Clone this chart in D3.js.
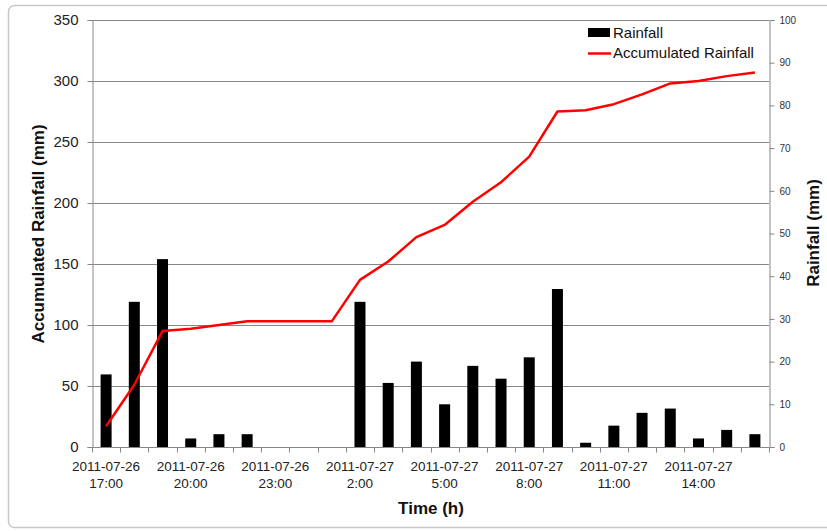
<!DOCTYPE html>
<html>
<head>
<meta charset="utf-8">
<script src="https://cdn.jsdelivr.net/npm/d3@7"></script>
<style>
  html, body { margin: 0; padding: 0; background: #fff; }
  svg { display: block; font-family: "Liberation Sans", Arial, sans-serif; }
</style>
</head>
<body>
<svg id="chart" width="827" height="531"></svg>
<script>
// Hourly observations, 2011-07-26 17:00 to 2011-07-27 16:00
const hours = ["17:00","18:00","19:00","20:00","21:00","22:00","23:00","0:00","1:00",
  "2:00","3:00","4:00","5:00","6:00","7:00","8:00","9:00","10:00","11:00","12:00",
  "13:00","14:00","15:00","16:00"];
const dates = ["2011-07-26","2011-07-26","2011-07-26","2011-07-26","2011-07-26","2011-07-26",
  "2011-07-26","2011-07-27","2011-07-27","2011-07-27","2011-07-27","2011-07-27","2011-07-27",
  "2011-07-27","2011-07-27","2011-07-27","2011-07-27","2011-07-27","2011-07-27","2011-07-27",
  "2011-07-27","2011-07-27","2011-07-27","2011-07-27"];
// Hourly rainfall (mm), right axis
const rainfall = [17, 34, 44, 2, 3, 3, 0, 0, 0, 34, 15, 20, 10, 19, 16, 21, 37, 1, 5, 8, 9, 2, 4, 3];
// Accumulated rainfall (mm), left axis
const accumulated = [17, 51, 95, 97, 100, 103, 103, 103, 103, 137, 152, 172, 182, 201, 217, 238,
  275, 276, 281, 289, 298, 300, 304, 307];
const leftTicks = [0, 50, 100, 150, 200, 250, 300, 350];
const rightTicks = [0, 10, 20, 30, 40, 50, 60, 70, 80, 90, 100];
const labelEvery = 3;

const svg = d3.select("#chart");
const m = { left: 92, right: 769, top: 20, bottom: 447 };
const gridColor = "#878787";

// chart frame
svg.append("rect")
  .attr("x", 8.5).attr("y", 5.5).attr("width", 830).attr("height", 522)
  .attr("rx", 6).attr("fill", "#fff").attr("stroke", "#c8c8c8").attr("stroke-width", 1.5);

const keys = hours.map((h, i) => i);
const x = d3.scaleBand().domain(keys).range([m.left, m.right]).paddingInner(0).paddingOuter(0);
const yL = d3.scaleLinear().domain([0, 350]).range([m.bottom, m.top]);
const yR = d3.scaleLinear().domain([0, 100]).range([m.bottom, m.top]);

// gridlines
svg.append("g").selectAll("line").data(leftTicks.slice(1)).join("line")
  .attr("x1", m.left).attr("x2", m.right)
  .attr("y1", d => Math.round(yL(d)) + 0.5).attr("y2", d => Math.round(yL(d)) + 0.5)
  .attr("stroke", gridColor).attr("stroke-width", 1);

// left axis
const axL = svg.append("g").attr("transform", `translate(${m.left + 0.5},0)`)
  .call(d3.axisLeft(yL).tickValues(leftTicks).tickSize(5).tickPadding(9));
axL.select(".domain").attr("stroke", gridColor);
axL.selectAll(".tick line").attr("stroke", gridColor);
axL.selectAll(".tick text").attr("font-size", 15).attr("fill", "#222")
  .attr("font-family", "Liberation Sans, Arial, sans-serif");

// right axis
const axR = svg.append("g").attr("transform", `translate(${m.right + 0.5},0)`)
  .call(d3.axisRight(yR).tickValues(rightTicks).tickSize(5).tickPadding(5));
axR.select(".domain").attr("stroke", gridColor);
axR.selectAll(".tick line").attr("stroke", gridColor);
axR.selectAll(".tick text").attr("font-size", 10).attr("fill", "#333")
  .attr("font-family", "Liberation Sans, Arial, sans-serif");

// bottom axis: a tick at every category boundary
const xb = svg.append("g").attr("transform", `translate(0,${m.bottom + 0.5})`);
xb.append("line").attr("x1", m.left).attr("x2", m.right).attr("stroke", gridColor);
xb.selectAll("line.tk").data(d3.range(keys.length + 1)).join("line").attr("class", "tk")
  .attr("x1", i => Math.round(m.left + i * x.bandwidth()) + 0.5)
  .attr("x2", i => Math.round(m.left + i * x.bandwidth()) + 0.5)
  .attr("y1", 0).attr("y2", 5).attr("stroke", gridColor);
const lbl = xb.selectAll("text").data(keys.filter(i => i % labelEvery === 0)).join("text")
  .attr("x", i => x(i) + x.bandwidth() / 2)
  .attr("text-anchor", "middle").attr("font-size", 13.5).attr("fill", "#222");
lbl.append("tspan").attr("x", i => x(i) + x.bandwidth() / 2).attr("y", 23).text(i => dates[i]);
lbl.append("tspan").attr("x", i => x(i) + x.bandwidth() / 2).attr("y", 40).text(i => hours[i]);

// rainfall bars
const bw = 11;
svg.append("g").selectAll("rect").data(keys.filter(i => rainfall[i] > 0)).join("rect")
  .attr("x", i => x(i) + x.bandwidth() / 2 - bw / 2)
  .attr("y", i => yR(rainfall[i]))
  .attr("width", bw)
  .attr("height", i => yR(0) - yR(rainfall[i]))
  .attr("fill", "#000");

// accumulated rainfall line
const line = d3.line().x((d, i) => x(i) + x.bandwidth() / 2).y(d => yL(d));
svg.append("path").datum(accumulated).attr("d", line)
  .attr("fill", "none").attr("stroke", "#ff0000").attr("stroke-width", 2.5)
  .attr("stroke-linejoin", "round");

// axis titles
svg.append("text").attr("transform", "translate(44,234) rotate(-90)")
  .attr("text-anchor", "middle").attr("font-size", 17).attr("font-weight", "bold")
  .attr("fill", "#111").text("Accumulated Rainfall (mm)");
svg.append("text").attr("transform", "translate(819,233) rotate(-90)")
  .attr("text-anchor", "middle").attr("font-size", 17).attr("font-weight", "bold")
  .attr("fill", "#111").text("Rainfall (mm)");
svg.append("text").attr("x", 431).attr("y", 514)
  .attr("text-anchor", "middle").attr("font-size", 17).attr("font-weight", "bold")
  .attr("fill", "#111").text("Time (h)");

// legend
const lg = svg.append("g");
lg.append("rect").attr("x", 588).attr("y", 28).attr("width", 22).attr("height", 9).attr("fill", "#000");
lg.append("text").attr("x", 613).attr("y", 38).attr("font-size", 15).attr("fill", "#111").text("Rainfall");
lg.append("line").attr("x1", 588).attr("x2", 611).attr("y1", 53.5).attr("y2", 53.5)
  .attr("stroke", "#ff0000").attr("stroke-width", 2.5);
lg.append("text").attr("x", 613).attr("y", 58).attr("font-size", 15).attr("fill", "#111").text("Accumulated Rainfall");
</script>
</body>
</html>
